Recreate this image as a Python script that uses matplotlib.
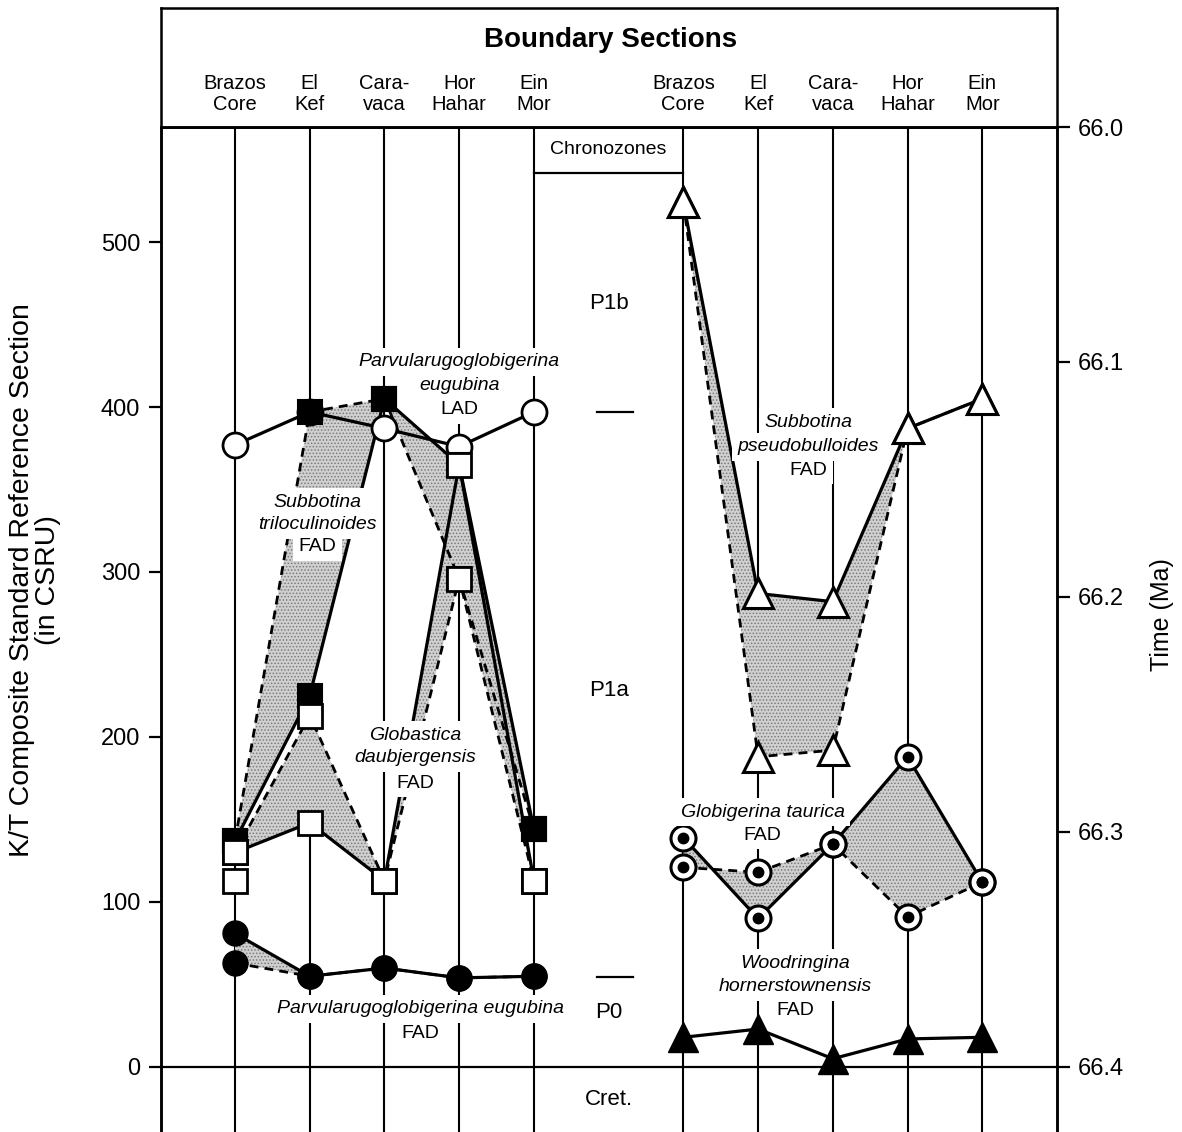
import numpy as np
import matplotlib
matplotlib.use("Agg")
import matplotlib.pyplot as plt

plt.rcParams['font.family'] = ['Liberation Sans', 'DejaVu Sans']
plt.rcParams['hatch.linewidth'] = 0.7
plt.rcParams['hatch.color'] = '#7a7a7a'

nan = np.nan

# ---- sections ----
section_names = ["Brazos\nCore", "El\nKef", "Cara-\nvaca", "Hor\nHahar", "Ein\nMor"]
left_x = np.array([0, 1, 2, 3, 4])
right_x = np.array([6, 7, 8, 9, 10])

# ---- left group: datum levels in CSRU ----
eugubina_lad = [377, 397, 387, 376, 397]
trilo_solid = [137, 225, 405, 365, 144]
trilo_dashed = [137, 397, 405, 296, 144]
daub_solid = [130, 148, 113, 365, 113]
daub_dashed = [130, 213, 113, 296, 113]
daub_extra = [113, nan, nan, nan, nan]
eugubina_fad_solid = [81, 55, 60, 54, 55]
eugubina_fad_dashed = [63, 55, 60, 54, 55]

# ---- right group ----
pseudo_solid = [524, 287, 282, 387, 405]
pseudo_dashed = [524, 188, 192, 387, 405]
taurica_solid = [139, 90, 135, 188, 112]
taurica_dashed = [121, 118, 135, 91, 112]
woodringina = [18, 23, 5, 17, 18]

# ---- chronozones ----
zone_bounds = [397, 54.5]
zone_names = ["P1b", "P1a", "P0", "Cret."]
zone_label_y = [463, 228, 33, -19.5]

csru_ticks = [0, 100, 200, 300, 400, 500]
time_ticks = [66.0, 66.1, 66.2, 66.3, 66.4]

Y0, Y1 = -39.4, 569.7
X0, X1 = -0.99, 11.0

fig = plt.figure(figsize=(11.82, 11.32), dpi=100)
L, R = 161 / 1182, 1057 / 1182
main_top = (1132 - 127) / 1132
ax = fig.add_axes([L, 0.0, R - L, main_top])
axh = fig.add_axes([L, main_top, R - L, (127 - 8) / 1132])

ax.set_xlim(X0, X1)
ax.set_ylim(Y0, Y1)
ax.set_xticks([])
ax.set_yticks(csru_ticks)
ax.tick_params(axis='y', direction='out', length=9, width=1.6, labelsize=17, pad=6)
ax.spines['bottom'].set_visible(False)
for s in ['left', 'right', 'top']:
    ax.spines[s].set_linewidth(1.8)

# time axis on the right
def csru_to_time(v):
    return 66.4 - v * 0.4 / Y1

ax2 = ax.twinx()
ax2.set_ylim(csru_to_time(Y0), csru_to_time(Y1))
ax2.set_yticks(time_ticks)
ax2.set_yticklabels([f"{t:.1f}" for t in time_ticks])
ax2.tick_params(axis='y', direction='out', length=9, width=1.6, labelsize=17, pad=6)
ax2.spines['bottom'].set_visible(False)
for s in ['left', 'right', 'top']:
    ax2.spines[s].set_linewidth(1.8)

# header
axh.set_xlim(X0, X1)
axh.set_ylim(0, 1)
axh.set_xticks([])
axh.set_yticks([])
for s in axh.spines.values():
    s.set_linewidth(1.8)
axh.text(5.02, 0.73, "Boundary Sections", ha='center', va='center',
         fontsize=20, fontweight='bold')
for xs in (left_x, right_x):
    for x, name in zip(xs, section_names):
        axh.text(x, 0.28, name, ha='center', va='center', fontsize=14.5,
                 linespacing=1.15)

# section lines and base line
for x in list(left_x) + list(right_x):
    ax.axvline(x, color='k', lw=1.5, zorder=1)
ax.axhline(0, color='k', lw=1.6, zorder=1)

# chronozone column
ax.plot([4, 6], [541.8, 541.8], color='k', lw=1.6, zorder=1)
ax.text(5, 556, "Chronozones", ha='center', va='center', fontsize=14)
for b in zone_bounds:
    ax.plot([4.85, 5.32], [b, b], color='k', lw=1.6, zorder=1)
for name, yv in zip(zone_names, zone_label_y):
    ax.text(5.0, yv, name, ha='center', va='center', fontsize=16)

stipple = dict(facecolor='#d0d0d0', hatch='.....', linewidth=0, zorder=2)
dash = (0, (3.2, 2.2))


def band(xs, solid, dashed):
    ax.fill_between(xs, solid, dashed, **stipple)
    ax.plot(xs, dashed, color='k', lw=2.0, ls=dash, zorder=3)
    ax.plot(xs, solid, color='k', lw=2.3, zorder=3.5)


# left group
band(left_x, trilo_solid, trilo_dashed)
band(left_x, daub_solid, daub_dashed)
band(left_x, eugubina_fad_solid, eugubina_fad_dashed)
ax.plot(left_x, eugubina_lad, color='k', lw=2.3, zorder=3.5)

ax.plot(left_x, eugubina_lad, 'o', ms=18, mfc='white', mec='k', mew=2, zorder=4)
for arr in (trilo_solid, trilo_dashed):
    ax.plot(left_x, arr, 's', ms=17.5, mfc='k', mec='k', mew=1.5, zorder=4.2)
for arr in (daub_solid, daub_dashed, daub_extra):
    ax.plot(left_x, arr, 's', ms=17.5, mfc='white', mec='k', mew=2, zorder=4.4)
for arr in (eugubina_fad_solid, eugubina_fad_dashed):
    ax.plot(left_x, arr, 'o', ms=18, mfc='k', mec='k', zorder=4.2)

# right group
band(right_x, pseudo_solid, pseudo_dashed)
band(right_x, taurica_solid, taurica_dashed)
ax.plot(right_x, woodringina, color='k', lw=2.3, zorder=3.5)

for arr in (pseudo_solid, pseudo_dashed):
    ax.plot(right_x, arr, '^', ms=22, mfc='white', mec='k', mew=2.2, zorder=4.2)
for arr in (taurica_solid, taurica_dashed):
    ax.plot(right_x, arr, 'o', ms=18, mfc='white', mec='k', mew=2.2, zorder=4.2)
    ax.plot(right_x, arr, 'o', ms=7.5, mfc='k', mec='k', zorder=4.3)
ax.plot(right_x, woodringina, '^', ms=22, mfc='k', mec='k', zorder=4.2)


def label(x, y, s, italic=True, size=14):
    kw = dict(ha='center', va='center', fontsize=size,
              style='italic' if italic else 'normal')
    ax.text(x, y, s, color='none', zorder=6,
            bbox=dict(boxstyle='square,pad=0.28', fc='white', ec='none'), **kw)
    ax.text(x, y, s, color='k', zorder=7, **kw)


# taxon labels
label(3.0, 427.3, "Parvularugoglobigerina")
label(3.0, 413.3, "eugubina")
label(3.0, 398.2, "LAD", italic=False)

label(1.10, 342.4, "Subbotina")
label(1.10, 328.5, "triloculinoides")
label(1.10, 315.2, "FAD", italic=False)

label(2.41, 201.2, "Globastica")
label(2.41, 187.3, "daubjergensis")
label(2.41, 172.1, "FAD", italic=False)

label(2.48, 35.2, "Parvularugoglobigerina eugubina")
label(2.48, 20.6, "FAD", italic=False)

label(7.67, 390.9, "Subbotina")
label(7.67, 375.8, "pseudobulloides")
label(7.67, 361.8, "FAD", italic=False)

label(7.06, 154.5, "Globigerina taurica")
label(7.06, 140.6, "FAD", italic=False)

label(7.50, 63.0, "Woodringina")
label(7.50, 48.5, "hornerstownensis")
label(7.50, 34.5, "FAD", italic=False)

# axis titles
fig.text(35 / 1182, 1 - 580 / 1132,
         "K/T Composite Standard Reference Section\n(in CSRU)",
         rotation=90, ha='center', va='center', fontsize=20.5,
         multialignment='center', linespacing=1.0)
fig.text(1162 / 1182, 1 - 615 / 1132, "Time (Ma)", rotation=90,
         ha='center', va='center', fontsize=18)

fig.savefig("out.png", dpi=100)
